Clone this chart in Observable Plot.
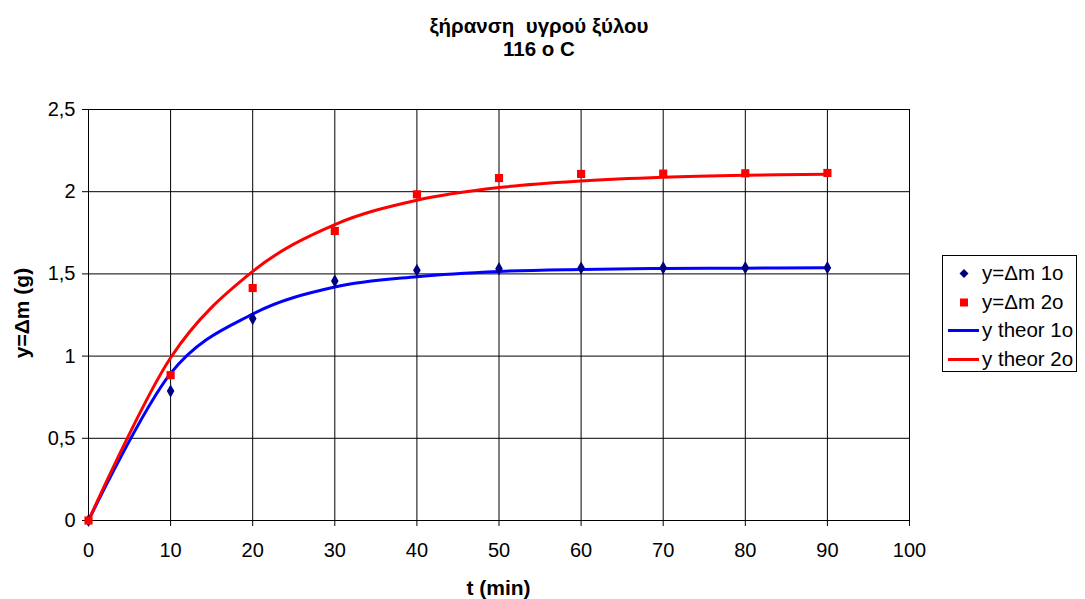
<!DOCTYPE html>
<html>
<head>
<meta charset="utf-8">
<script src="https://cdn.jsdelivr.net/npm/d3@7"></script>
<script src="https://cdn.jsdelivr.net/npm/@observablehq/plot@0.6"></script>
<style>
  html, body { margin: 0; padding: 0; background: #fff; }
  #wrap { position: relative; width: 1085px; height: 599px; font-family: "Liberation Sans", Arial, sans-serif; }
  #title { position: absolute; left: 0; width: 1078px; top: 14px; text-align: center; font-weight: bold; font-size: 20.5px; line-height: 23px; white-space: pre; color: #000; }
  #legend { position: absolute; left: 942px; top: 255px; width: 135px; height: 117px; border: 1px solid #000; background: #fff; box-sizing: border-box; }
  .row { position: absolute; left: 0; height: 28px; font-size: 20.5px; line-height: 28px; color: #000; white-space: nowrap; }
  .row svg { position: absolute; left: 5px; top: 0; }
  .row span { position: absolute; left: 39px; }
  #xlabel { position: absolute; left: 88px; width: 821px; top: 576px; text-align: center; font-weight: bold; font-size: 21px; line-height: 24px; }
  #ylabel { position: absolute; left: 22px; top: 313px; transform: translate(-50%, -50%) rotate(-90deg); font-weight: bold; font-size: 21px; white-space: nowrap; }
  #chart { position: absolute; left: 0; top: 0; }
</style>
</head>
<body>
<div id="wrap">
  <div id="chart"></div>
  <div id="title">ξήρανση  υγρού ξύλου
116 o C</div>
  <div id="xlabel">t (min)</div>
  <div id="ylabel">y=Δm (g)</div>
  <div id="legend"></div>
</div>
<script>
// time points (min)
const t = [0, 10, 20, 30, 40, 50, 60, 70, 80, 90];
// measured Δm (g)
const dm1 = [0, 0.787, 1.228, 1.457, 1.522, 1.532, 1.536, 1.537, 1.538, 1.538];
const dm2 = [0, 0.884, 1.414, 1.761, 1.984, 2.083, 2.108, 2.110, 2.112, 2.114];
// theoretical Δm (g)
const theor1 = [0, 0.895, 1.256, 1.420, 1.483, 1.515, 1.527, 1.533, 1.535, 1.537];
const theor2 = [0, 0.990, 1.515, 1.800, 1.948, 2.025, 2.065, 2.088, 2.100, 2.106];

const xTicks = [0, 10, 20, 30, 40, 50, 60, 70, 80, 90, 100];
const yTicks = [0, 0.5, 1, 1.5, 2, 2.5];

const seriesNames = ["y=Δm 1o", "y=Δm 2o", "y theor 1o", "y theor 2o"];
const colors = { s1: "#000080", s2: "#ff0000", th1: "#0000ff", th2: "#ff0000" };

const pts1 = t.map((x, i) => ({ t: x, y: dm1[i] }));
const pts2 = t.map((x, i) => ({ t: x, y: dm2[i] }));
const th1 = t.map((x, i) => ({ t: x, y: theor1[i] }));
const th2 = t.map((x, i) => ({ t: x, y: theor2[i] }));

const fmt = d => String(d).replace(".", ",");

const chart = Plot.plot({
  width: 1085,
  height: 599,
  marginLeft: 88,
  marginRight: 176,
  marginTop: 109,
  marginBottom: 79,
  style: { fontFamily: "'Liberation Sans', Arial, sans-serif", fontSize: "20px", color: "#000", background: "transparent" },
  x: { domain: [0, 100], ticks: xTicks, tickFormat: fmt, label: null },
  y: { domain: [0, 2.5], ticks: yTicks, tickFormat: fmt, label: null },
  marks: [
    Plot.gridX(xTicks, { stroke: "#000", strokeOpacity: 1, strokeWidth: 1 }),
    Plot.gridY(yTicks, { stroke: "#000", strokeOpacity: 1, strokeWidth: 1 }),
    Plot.frame({ stroke: "#000" }),
    Plot.axisX(xTicks, { tickSize: 6, tickPadding: 16, tickFormat: fmt, label: null, fontSize: 20 }),
    Plot.axisY(yTicks, { tickSize: 6, tickPadding: 7, tickFormat: fmt, label: null, fontSize: 20 }),
    Plot.line(th1, { x: "t", y: "y", stroke: colors.th1, strokeWidth: 3, curve: d3.curveCatmullRom.alpha(0) }),
    Plot.line(th2, { x: "t", y: "y", stroke: colors.th2, strokeWidth: 3, curve: d3.curveCatmullRom.alpha(0) }),
    Plot.dot(pts1, { x: "t", y: "y", symbol: "diamond", r: 4, fill: colors.s1, stroke: null }),
    Plot.dot(pts2, { x: "t", y: "y", symbol: "square", r: 4.6, fill: colors.s2, stroke: null })
  ]
});
document.getElementById("chart").appendChild(chart);

// legend
const legend = document.getElementById("legend");
const legendItems = [
  { name: seriesNames[0], type: "diamond", color: colors.s1 },
  { name: seriesNames[1], type: "square", color: colors.s2 },
  { name: seriesNames[2], type: "line", color: colors.th1 },
  { name: seriesNames[3], type: "line", color: colors.th2 }
];
legendItems.forEach((it, i) => {
  const row = document.createElement("div");
  row.className = "row";
  row.style.top = (3 + i * 28.5) + "px";
  let g = "";
  if (it.type === "diamond") g = `<path d="M16,10 L20.5,14.5 L16,19 L11.5,14.5 Z" fill="${it.color}"/>`;
  else if (it.type === "square") g = `<rect x="12" y="10.5" width="8" height="8" fill="${it.color}"/>`;
  else g = `<line x1="0" x2="31" y1="14.5" y2="14.5" stroke="${it.color}" stroke-width="3"/>`;
  row.innerHTML = `<svg width="34" height="28">${g}</svg><span>${it.name}</span>`;
  legend.appendChild(row);
});
</script>
</body>
</html>
